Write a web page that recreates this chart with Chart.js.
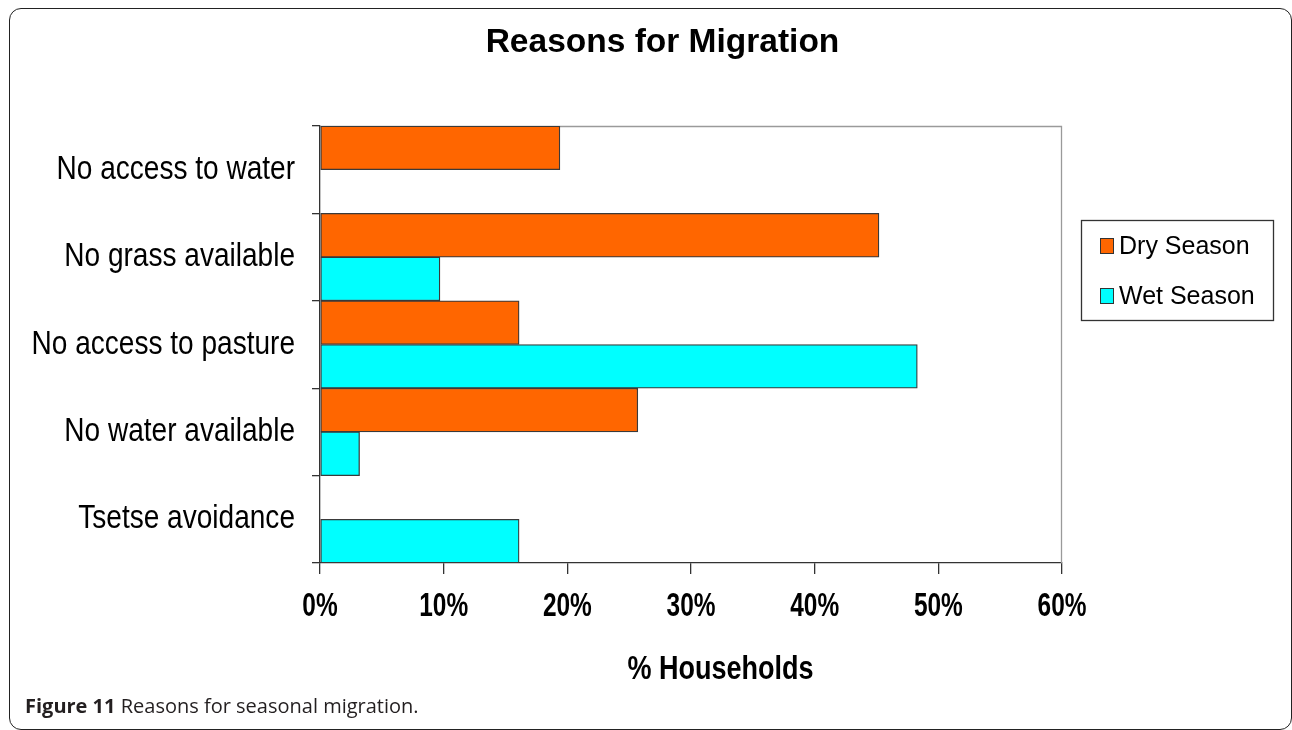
<!DOCTYPE html>
<html><head><meta charset="utf-8">
<script src="https://cdn.jsdelivr.net/npm/chart.js@4.4.1/dist/chart.umd.min.js"></script>
<style>
html,body{margin:0;padding:0;background:#fff;width:1292px;height:730px;overflow:hidden;}
#wrap{position:relative;width:1292px;height:730px;}
#frame{position:absolute;left:9px;top:8px;width:1283px;height:722px;border:1.5px solid #222;border-radius:12px;box-sizing:border-box;}
#c{position:absolute;left:0;top:0;}
#cap{position:absolute;left:25px;top:696px;font-family:"Open Sans",sans-serif;font-size:20px;line-height:20px;color:#231f20;white-space:nowrap;}
#cap b{font-weight:700;}
</style></head>
<body><div id="wrap"><div id="frame"></div><canvas id="c" width="1292" height="730"></canvas><div id="cap"><b>Figure 11</b> Reasons for seasonal migration.</div></div>
<script>
const categories = ["No access to water","No grass available","No access to pasture","No water available","Tsetse avoidance"];
const seriesNames = ["Dry Season","Wet Season"];
const drySeason = [19.4, 45.2, 16.1, 25.7, 0];
const wetSeason = [0, 9.7, 48.3, 3.2, 16.1];
const xTickValues = [0, 10, 20, 30, 40, 50, 60];
const chartTitle = "Reasons for Migration";
const xAxisTitle = "% Households";

const SANS = '"Liberation Sans",Arial,sans-serif';
const YLAB = '"cond85","Liberation Sans",Arial,sans-serif';
const XLAB = '"cond74","Liberation Sans",Arial,sans-serif';

const canvas = document.getElementById('c');
const ctx2d = canvas.getContext('2d');
const origFill = ctx2d.fillText.bind(ctx2d);
ctx2d.fillText = function(text, x, y, maxWidth) {
  const m = /cond(\d+)/.exec(this.font);
  if (m && maxWidth === undefined) {
    const w = this.measureText(text).width * parseInt(m[1], 10) / 100;
    return origFill(text, x, y, w);
  }
  if (maxWidth === undefined) return origFill(text, x, y);
  return origFill(text, x, y, maxWidth);
};

const decor = {
  id: 'decor',
  beforeDatasetsDraw(chart) {
    const {ctx, chartArea: a} = chart;
    ctx.save();
    ctx.strokeStyle = '#9a9a9a';
    ctx.lineWidth = 1.3;
    ctx.beginPath();
    ctx.moveTo(a.left, a.top + 0.5);
    ctx.lineTo(a.right - 0.5, a.top + 0.5);
    ctx.lineTo(a.right - 0.5, a.bottom);
    ctx.stroke();
    ctx.restore();
  },
  afterDraw(chart) {
    const ctx = chart.ctx;
    ctx.save();
    ctx.fillStyle = '#000';
    ctx.textAlign = 'center';
    ctx.textBaseline = 'alphabetic';
    ctx.font = 'bold 33.5px ' + SANS;
    ctx.fillText(chartTitle, 662.5, 52);
    ctx.font = 'bold 33px ' + SANS;
    ctx.fillText(xAxisTitle, 720.5, 679, 186);
    ctx.strokeStyle = '#333';
    ctx.lineWidth = 1.3;
    ctx.strokeRect(1081.5, 220.5, 192, 100);
    ctx.textAlign = 'left';
    ctx.textBaseline = 'middle';
    ctx.font = '25px ' + SANS;
    chart.data.datasets.forEach((ds, i) => {
      const cy = 246 + i * 50;
      ctx.fillStyle = ds.backgroundColor;
      ctx.fillRect(1100.5, cy - 7.5, 13, 15);
      ctx.strokeStyle = '#333';
      ctx.lineWidth = 1;
      ctx.strokeRect(1100.5, cy - 7.5, 13, 15);
      ctx.fillStyle = '#000';
      ctx.fillText(ds.label, 1119, cy + 1);
    });
    ctx.restore();
  }
};

new Chart(canvas, {
  type: 'bar',
  data: {
    labels: categories,
    datasets: [
      {label: seriesNames[0], data: drySeason, backgroundColor: '#FF6600', borderColor: '#3a3a3a', borderWidth: 1.3, borderSkipped: false},
      {label: seriesNames[1], data: wetSeason, backgroundColor: '#00FFFF', borderColor: '#3a3a3a', borderWidth: 1.3, borderSkipped: false}
    ]
  },
  options: {
    indexAxis: 'y',
    responsive: false,
    animation: false,
    devicePixelRatio: 1,
    categoryPercentage: 1.0,
    barPercentage: 1.0,
    layout: {padding: {top: 126, right: 230, bottom: 0, left: 0}},
    plugins: {legend: {display: false}, title: {display: false}, tooltip: {enabled: false}},
    scales: {
      x: {
        type: 'linear', min: 0, max: 60,
        afterBuildTicks(s) { s.ticks = xTickValues.map(v => ({value: v})); },
        afterFit(s) { s.height = 167; },
        ticks: {callback: v => v + '%', color: '#000', font: {family: XLAB, size: 33, weight: 'bold'}, padding: 13, maxRotation: 0, autoSkip: false},
        grid: {drawOnChartArea: false, drawTicks: true, tickLength: 11, color: '#333', lineWidth: 1.3},
        border: {display: true, color: '#333', width: 1.3}
      },
      y: {
        type: 'category',
        afterFit(s) { s.width = 320; },
        ticks: {color: '#000', font: {family: YLAB, size: 33}, padding: 17},
        grid: {offset: true, drawOnChartArea: false, drawTicks: true, tickLength: 8, color: '#333', lineWidth: 1.3},
        border: {display: true, color: '#333', width: 1.3}
      }
    }
  },
  plugins: [decor]
});
</script>
</body></html>
